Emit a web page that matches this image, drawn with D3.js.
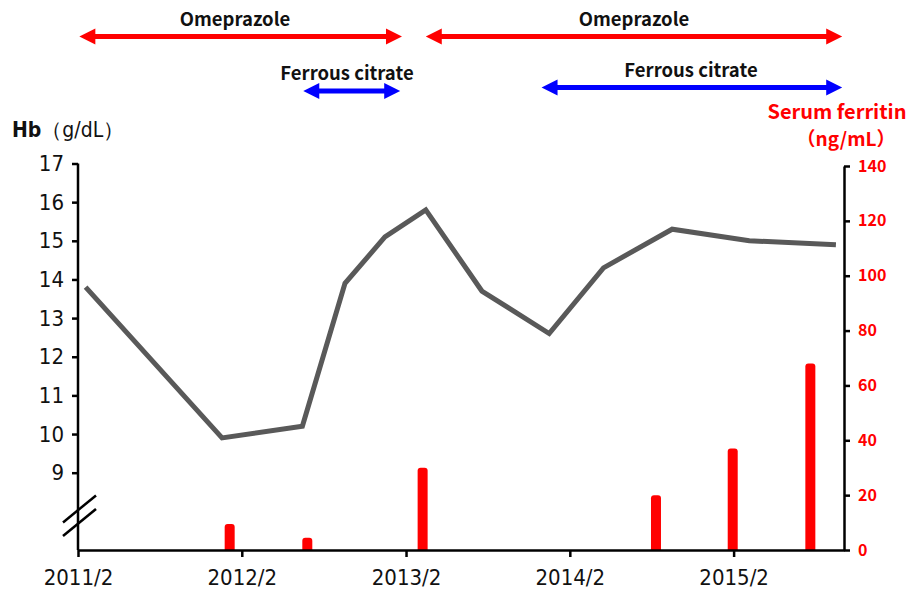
<!DOCTYPE html>
<html>
<head>
<meta charset="utf-8">
<script src="https://cdn.jsdelivr.net/npm/d3@7"></script>
<style>
  body { margin: 0; background: #fff; }
  .narrow { font-family: "Liberation Sans Narrow", "DejaVu Sans Condensed", sans-serif; }
  .jp { font-family: "Noto Sans CJK JP", "Noto Sans", sans-serif; }
</style>
</head>
<body>
<script>
// Hb series (g/dL)
var hbDates  = ["2011-02-18", "2011-12-19", "2012-06-15", "2012-09-18", "2012-12-16", "2013-03-17",
                "2013-07-20", "2013-12-17", "2014-04-17", "2014-09-17", "2015-03-08", "2015-09-17"];
var hbValues = [13.8, 9.9, 10.2, 13.9, 15.1, 15.8, 13.7, 12.6, 14.3, 15.3, 15.0, 14.9];

// serum ferritin bars (ng/mL)
var ferDates  = ["2012-01-05", "2012-06-26", "2013-03-10", "2014-08-12", "2015-01-30", "2015-07-22"];
var ferValues = [9.5, 4.5, 30, 20, 37, 68];

// x ticks
var xTicks = ["2011-02-01", "2012-02-01", "2013-02-01", "2014-02-01", "2015-02-01"];
var hbTicks = [9, 10, 11, 12, 13, 14, 15, 16, 17];
var ferTicks = [0, 20, 40, 60, 80, 100, 120, 140];

// therapy periods (arrows on top)
var therapyNames  = ["Omeprazole", "Omeprazole", "Ferrous citrate", "Ferrous citrate"];
var therapyStarts = ["2011-02-04", "2013-03-17", "2012-06-17", "2013-11-30"];
var therapyEnds   = ["2013-01-23", "2015-10-01", "2013-01-19", "2015-10-01"];

var parse = d3.timeParse("%Y-%m-%d");

var W = 914, H = 597;
var svg = d3.select("body").append("svg")
    .attr("width", W)
    .attr("height", H);

var x = d3.scaleTime()
    .domain([parse("2011-02-01"), parse("2015-10-05")])
    .range([78, 844]);

// Hb axis runs from 7 at the baseline (shown with a break)
var yHb = d3.scaleLinear().domain([7, 17]).range([550, 163.5]);
var yFer = d3.scaleLinear().domain([0, 140]).range([550, 166]);

// ferritin bars
var bars = ferDates.map(function(d, i) { return {date: parse(d), v: ferValues[i]}; });
svg.selectAll(".bar")
  .data(bars)
  .enter()
  .append("path")
    .attr("class", "bar")
    .attr("fill", "#ff0000")
    .attr("d", function(d) {
      var bw = 10, r = 3;
      var x0 = x(d.date) - bw / 2, x1 = x(d.date) + bw / 2;
      var yt = yFer(d.v), yb = yFer(0);
      return "M" + x0 + "," + yb + "V" + (yt + r)
        + "Q" + x0 + "," + yt + " " + (x0 + r) + "," + yt
        + "H" + (x1 - r)
        + "Q" + x1 + "," + yt + " " + x1 + "," + (yt + r)
        + "V" + yb + "Z";
    });

// Hb line
var hb = hbDates.map(function(d, i) { return {date: parse(d), v: hbValues[i]}; });
svg.append("path")
  .datum(hb)
  .attr("fill", "none")
  .attr("stroke", "#595959")
  .attr("stroke-width", 5)
  .attr("stroke-linejoin", "miter")
  .attr("d", d3.line().x(function(d) { return x(d.date); }).y(function(d) { return yHb(d.v); }));

// left axis
var gl = svg.append("g")
    .attr("transform", "translate(" + x.range()[0] + ",0)")
    .call(d3.axisLeft(yHb).tickValues(hbTicks).tickSize(6).tickPadding(8).tickSizeOuter(0));
gl.select(".domain").remove();
gl.append("line")
    .attr("x1", 0).attr("x2", 0)
    .attr("y1", yHb(17)).attr("y2", yHb(7))
    .attr("stroke", "#000").attr("stroke-width", 2.5);
gl.selectAll(".tick line").attr("stroke-width", 2.5);
gl.selectAll(".tick text")
    .attr("class", "narrow")
    .attr("font-size", 22)
    .attr("fill", "#111");

// axis break marks
[8.05, 7.7].forEach(function(v) {
  var cy = yHb(v);
  svg.append("line")
    .attr("x1", x.range()[0] - 15).attr("y1", cy + 13)
    .attr("x2", x.range()[0] + 18).attr("y2", cy - 14)
    .attr("stroke", "#000").attr("stroke-width", 2.5);
});

// right axis
var gr = svg.append("g")
    .attr("transform", "translate(" + x.range()[1] + ",0)")
    .call(d3.axisRight(yFer).tickValues(ferTicks).tickSize(6).tickPadding(8).tickSizeOuter(0));
gr.select(".domain").attr("stroke-width", 2.5);
gr.selectAll(".tick line").attr("stroke-width", 2.5);
gr.selectAll(".tick text")
    .attr("class", "jp")
    .attr("font-size", 16)
    .attr("font-weight", "bold")
    .attr("fill", "#ff0000");

// bottom axis
var gb = svg.append("g")
    .attr("transform", "translate(0," + yHb(7) + ")")
    .call(d3.axisBottom(x).tickValues(xTicks.map(parse)).tickSize(7).tickPadding(12)
      .tickSizeOuter(0).tickFormat(d3.timeFormat("%Y/%-m")));
gb.select(".domain").attr("stroke-width", 2.5);
gb.selectAll(".tick line").attr("stroke-width", 2.5);
gb.selectAll(".tick text")
    .attr("class", "narrow")
    .attr("font-size", 22)
    .attr("fill", "#111");

// axis titles
var hbTitle = svg.append("text")
    .attr("class", "narrow")
    .attr("x", 12).attr("y", 137)
    .attr("font-size", 21)
    .attr("fill", "#111");
hbTitle.append("tspan").attr("font-weight", "bold").text("Hb");
hbTitle.append("tspan").text("（g/dL）");

svg.append("text")
    .attr("class", "jp")
    .attr("x", 837).attr("y", 119)
    .attr("text-anchor", "middle")
    .attr("font-size", 20)
    .attr("font-weight", "bold")
    .attr("fill", "#ff0000")
    .text("Serum ferritin");
svg.append("text")
    .attr("class", "jp")
    .attr("x", 846).attr("y", 146)
    .attr("text-anchor", "middle")
    .attr("font-size", 19)
    .attr("font-weight", "bold")
    .attr("fill", "#ff0000")
    .text("（ng/mL）");

// therapy arrows
var therapies = therapyNames.map(function(n, i) {
  return {name: n, start: parse(therapyStarts[i]), end: parse(therapyEnds[i])};
});
var arrowY = {"Omeprazole": [36.5, 36.5], "Ferrous citrate": [91, 87.5]};
var arrowColor = {"Omeprazole": "#ff0000", "Ferrous citrate": "#0000ff"};

var ann = svg.selectAll(".therapy")
  .data(therapies)
  .enter()
  .append("g")
    .attr("class", "therapy");

ann.append("path")
  .attr("fill", function(d) { return arrowColor[d.name]; })
  .attr("d", function(d, i) {
    var y = arrowY[d.name][i % 2];
    var x0 = x(d.start), x1 = x(d.end);
    var hl = 16, hh = 8, sw = 2.5;
    return "M" + x0 + "," + y
      + "L" + (x0 + hl) + "," + (y - hh)
      + "L" + (x0 + hl) + "," + (y - sw)
      + "L" + (x1 - hl) + "," + (y - sw)
      + "L" + (x1 - hl) + "," + (y - hh)
      + "L" + x1 + "," + y
      + "L" + (x1 - hl) + "," + (y + hh)
      + "L" + (x1 - hl) + "," + (y + sw)
      + "L" + (x0 + hl) + "," + (y + sw)
      + "L" + (x0 + hl) + "," + (y + hh) + "Z";
  });

var labelX = [235, 634, 347, 691];
ann.append("text")
  .attr("class", "jp")
  .attr("x", function(d, i) { return labelX[i]; })
  .attr("y", function(d, i) { return arrowY[d.name][i % 2] - 11; })
  .attr("text-anchor", "middle")
  .attr("font-size", 18.5)
  .attr("font-weight", 600)
  .attr("fill", "#111")
  .text(function(d) { return d.name; });
</script>
</body>
</html>
